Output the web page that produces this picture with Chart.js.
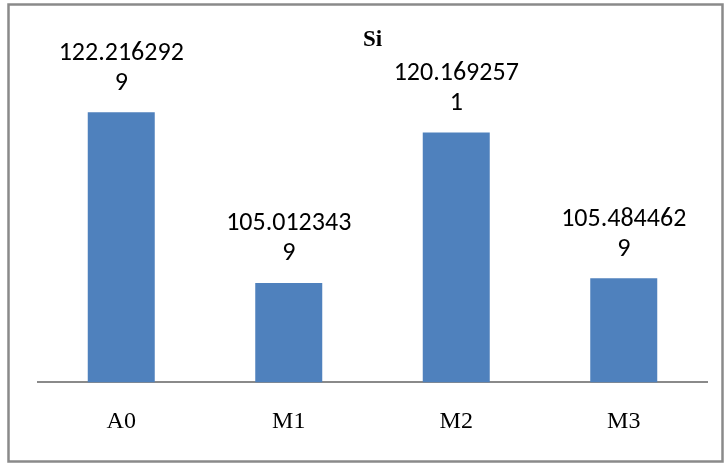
<!DOCTYPE html>
<html>
<head>
<meta charset="utf-8">
<script src="https://cdn.jsdelivr.net/npm/chart.js@4.4.1/dist/chart.umd.min.js"></script>
<style>
  html, body { margin: 0; padding: 0; background: #ffffff; }
  #wrap { width: 727px; height: 463px; position: relative; }
</style>
</head>
<body>
<div id="wrap"><canvas id="chart" width="727" height="463"></canvas></div>
<script>
// Si content per sample
const categories = ['A0', 'M1', 'M2', 'M3'];
const siValues = [122.2162929, 105.0123439, 120.1692571, 105.4844629];
const chartTitle = 'Si';

const BAR_COLOR = '#4F81BD';
const FRAME_COLOR = '#8a8a8a';

// Outer frame around the whole chart
const framePlugin = {
  id: 'frame',
  afterDraw(chart) {
    const ctx = chart.ctx;
    ctx.save();
    ctx.strokeStyle = FRAME_COLOR;
    ctx.lineWidth = 2.5;
    ctx.strokeRect(8.5, 4.5, 714, 457);
    ctx.restore();
  }
};

// Value labels above bars, wrapped after ten characters
const valueLabelPlugin = {
  id: 'valueLabels',
  afterDatasetsDraw(chart) {
    const ctx = chart.ctx;
    const meta = chart.getDatasetMeta(0);
    const values = chart.data.datasets[0].data;
    ctx.save();
    ctx.font = '26px Carlito, Lato, sans-serif';
    ctx.fillStyle = '#000000';
    ctx.textAlign = 'center';
    ctx.textBaseline = 'middle';
    meta.data.forEach((bar, i) => {
      const text = String(values[i]);
      const lines = [text.slice(0, 10), text.slice(10)].filter(s => s.length);
      const lineGap = 30;
      const lastY = bar.y - 29;
      lines.forEach((ln, k) => {
        const y = lastY - (lines.length - 1 - k) * lineGap;
        ctx.fillText(ln, bar.x, y);
      });
    });
    ctx.restore();
  }
};

new Chart(document.getElementById('chart'), {
  type: 'bar',
  data: {
    labels: categories,
    datasets: [{
      data: siValues,
      backgroundColor: BAR_COLOR,
      borderWidth: 0,
      barPercentage: 0.4,
      categoryPercentage: 1.0
    }]
  },
  options: {
    responsive: false,
    animation: false,
    devicePixelRatio: 1,
    layout: { padding: { left: 37.5, right: 19.5, top: 0, bottom: 2 } },
    plugins: {
      legend: { display: false },
      tooltip: { enabled: false },
      title: {
        display: true,
        text: chartTitle,
        color: '#000000',
        font: { family: 'Liberation Serif', size: 23, weight: 'bold', lineHeight: 1.2 },
        padding: { top: 26, bottom: 31 }
      }
    },
    scales: {
      x: {
        grid: { display: false, drawTicks: false },
        border: { display: true, color: FRAME_COLOR, width: 2 },
        ticks: {
          color: '#000000',
          padding: 25,
          font: { family: 'Liberation Serif', size: 24 }
        }
      },
      y: {
        display: false,
        min: 95,
        max: 125
      }
    }
  },
  plugins: [framePlugin, valueLabelPlugin]
});
</script>
</body>
</html>
